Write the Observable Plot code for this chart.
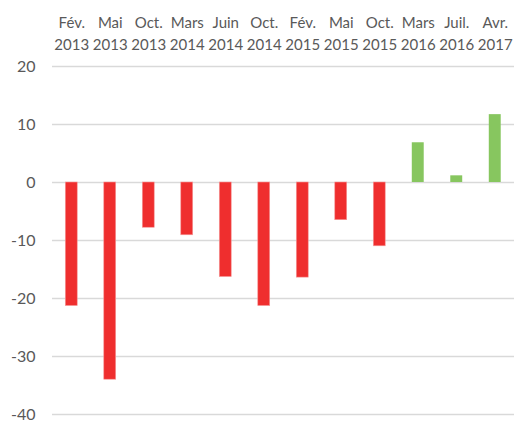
<!DOCTYPE html>
<html>
<head>
<meta charset="utf-8">
<script src="https://cdn.jsdelivr.net/npm/d3@7"></script>
<script src="https://cdn.jsdelivr.net/npm/@observablehq/plot@0.6"></script>
<style>
  html, body { margin: 0; padding: 0; background: #fff; }
</style>
</head>
<body>
<div id="chart"></div>
<script>
const months = ["Fév.", "Mai", "Oct.", "Mars", "Juin", "Oct.", "Fév.", "Mai", "Oct.", "Mars", "Juil.", "Avr."];
const years = ["2013", "2013", "2013", "2014", "2014", "2014", "2015", "2015", "2015", "2016", "2016", "2017"];
const values = [-21.3, -34.0, -7.8, -9.1, -16.3, -21.3, -16.4, -6.5, -11.0, 6.85, 1.15, 11.7];
const yTicks = [-40, -30, -20, -10, 0, 10, 20];

const data = months.map((m, i) => ({ key: m + "\n" + years[i], value: values[i] }));
const keys = data.map(d => d.key);

const chart = Plot.plot({
  width: 514,
  height: 421,
  marginLeft: 52,
  marginRight: 0,
  marginTop: 66,
  marginBottom: 7,
  style: { fontFamily: "Lato, sans-serif", fontSize: "15px", color: "#595959", background: "#fff" },
  x: { domain: keys, paddingInner: 0.69, paddingOuter: 0.345, round: false, axis: null },
  y: { domain: [-40, 20], axis: null },
  marks: [
    Plot.gridY(yTicks, { stroke: "#d9d9d9", strokeOpacity: 1, strokeWidth: 1.3 }),
    Plot.axisY(yTicks, { tickSize: 0, tickPadding: 17, tickFormat: d => String(d), label: null, fontSize: 16, fill: "#595959" }),
    Plot.barY(data.filter(d => d.value < 0), { x: "key", y: "value", fill: "#ef2e2e", stroke: "#f59a9a", strokeWidth: 0.6 }),
    Plot.barY(data.filter(d => d.value >= 0), { x: "key", y: "value", fill: "#87c65f" }),
    Plot.text(keys, { x: d => d, frameAnchor: "top", lineAnchor: "bottom", dy: -17, lineHeight: 1.46, fill: "#595959" })
  ]
});
document.getElementById("chart").appendChild(chart);
</script>
</body>
</html>
